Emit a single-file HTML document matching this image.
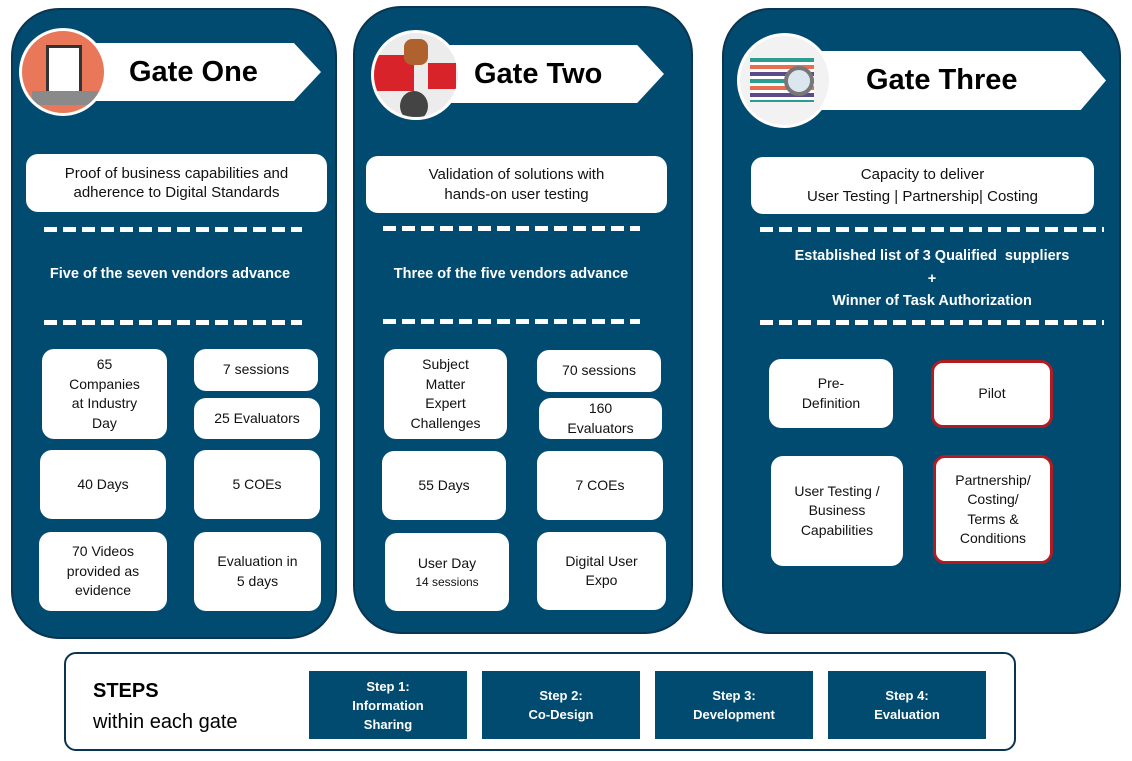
<!DOCTYPE html>
<html><head><style>
*{margin:0;padding:0;box-sizing:border-box}
body{width:1132px;height:761px;background:#fff;position:relative;overflow:hidden;font-family:"Liberation Sans",sans-serif}
.p{position:absolute;background:#024b70;border:2px solid #0a3550;border-radius:48px}
.b{position:absolute;background:#fff;border-radius:12px;display:flex;align-items:center;justify-content:center;text-align:center;font-size:14px;line-height:19.5px;color:#111}
.r{border:3px solid #b01c22}
.d{position:absolute;height:5px;background:repeating-linear-gradient(90deg,#fff 0 13px,transparent 13px 19px)}
.t{position:absolute;color:#fff;font-weight:bold;font-size:14.5px;text-align:center}
.ban{position:absolute;background:#fff;font-weight:bold;font-size:29px;color:#000;display:flex;align-items:center}
.c{position:absolute;border-radius:50%;border:3px solid #fff;overflow:hidden}
.s{position:absolute;background:#024b70;color:#fff;font-weight:bold;font-size:13px;line-height:19px;display:flex;align-items:center;justify-content:center;text-align:center;width:158px;height:68px;top:671px}
</style></head><body>
<div class="p" style="left:11px;top:8px;width:326px;height:631px"></div>
<div class="p" style="left:353px;top:6px;width:340px;height:628px"></div>
<div class="p" style="left:722px;top:8px;width:399px;height:626px"></div>

<div class="ban" style="left:95px;top:43px;width:226px;height:58px;clip-path:polygon(0 0,88% 0,100% 50%,88% 100%,0 100%);padding-left:34px">Gate One</div>
<div class="c" style="left:19px;top:28px;width:88px;height:88px;background:#e9775a"><div style="position:absolute;left:24px;top:14px;width:36px;height:56px;background:#fff;border:3px solid #333"></div><div style="position:absolute;left:10px;top:60px;width:66px;height:14px;background:#8a8a8a"></div></div>

<div class="ban" style="left:420px;top:45px;width:244px;height:58px;clip-path:polygon(0 0,89% 0,100% 50%,89% 100%,0 100%);padding-left:54px">Gate Two</div>
<div class="c" style="left:371px;top:30px;width:90px;height:90px;background:#ececec"><div style="position:absolute;left:0;top:22px;width:40px;height:36px;background:#d8232a"></div><div style="position:absolute;left:54px;top:30px;width:28px;height:26px;background:#d8232a"></div><div style="position:absolute;left:26px;top:58px;width:28px;height:30px;background:#444;border-radius:50%"></div><div style="position:absolute;left:30px;top:6px;width:24px;height:26px;background:#b0622e;border-radius:8px"></div></div>

<div class="ban" style="left:790px;top:51px;width:316px;height:59px;clip-path:polygon(0 0,92% 0,100% 50%,92% 100%,0 100%);padding-left:76px">Gate Three</div>
<div class="c" style="left:737px;top:33px;width:95px;height:95px;background:#f2f2f2"><div style="position:absolute;left:10px;top:22px;width:64px;height:44px;background:repeating-linear-gradient(180deg,#2a9d8f 0 4px,#fff 4px 7px,#e76f51 7px 11px,#fff 11px 14px,#5c4b8a 14px 18px,#fff 18px 21px)"></div><div style="position:absolute;left:44px;top:30px;width:30px;height:30px;border:4px solid #777;border-radius:50%;background:#dce6ef"></div></div>

<!-- Gate One -->
<div class="b" style="left:26px;top:154px;width:301px;height:58px;font-size:15px">Proof of business capabilities and<br>adherence to Digital Standards</div>
<div class="d" style="left:44px;top:227px;width:258px"></div>
<div class="t" style="left:26px;top:266px;width:288px">Five of the seven vendors advance</div>
<div class="d" style="left:44px;top:320px;width:258px"></div>
<div class="b" style="left:42px;top:349px;width:125px;height:90px">65<br>Companies<br>at Industry<br>Day</div>
<div class="b" style="left:194px;top:349px;width:124px;height:42px">7 sessions</div>
<div class="b" style="left:194px;top:398px;width:126px;height:41px">25 Evaluators</div>
<div class="b" style="left:40px;top:450px;width:126px;height:69px">40 Days</div>
<div class="b" style="left:194px;top:450px;width:126px;height:69px">5 COEs</div>
<div class="b" style="left:39px;top:532px;width:128px;height:79px">70 Videos<br>provided as<br>evidence</div>
<div class="b" style="left:194px;top:532px;width:127px;height:79px">Evaluation in<br>5 days</div>

<!-- Gate Two -->
<div class="b" style="left:366px;top:156px;width:301px;height:57px;font-size:15px">Validation of solutions with<br>hands-on user testing</div>
<div class="d" style="left:383px;top:226px;width:257px"></div>
<div class="t" style="left:366px;top:266px;width:290px">Three of the five vendors advance</div>
<div class="d" style="left:383px;top:319px;width:257px"></div>
<div class="b" style="left:384px;top:349px;width:123px;height:90px">Subject<br>Matter<br>Expert<br>Challenges</div>
<div class="b" style="left:537px;top:350px;width:124px;height:42px">70 sessions</div>
<div class="b" style="left:539px;top:398px;width:123px;height:41px">160<br>Evaluators</div>
<div class="b" style="left:382px;top:451px;width:124px;height:69px">55 Days</div>
<div class="b" style="left:537px;top:451px;width:126px;height:69px">7 COEs</div>
<div class="b" style="left:385px;top:533px;width:124px;height:78px;line-height:18px"><div>User Day<br><span style="font-size:12px">14 sessions</span></div></div>
<div class="b" style="left:537px;top:532px;width:129px;height:78px">Digital User<br>Expo</div>

<!-- Gate Three -->
<div class="b" style="left:751px;top:157px;width:343px;height:57px;font-size:15px;line-height:22px">Capacity to deliver<br>User Testing | Partnership| Costing</div>
<div class="d" style="left:760px;top:227px;width:344px"></div>
<div class="t" style="left:760px;top:245px;width:344px;line-height:22.5px">Established list of 3 Qualified&nbsp; suppliers<br>+<br>Winner of Task Authorization</div>
<div class="d" style="left:760px;top:320px;width:344px"></div>
<div class="b" style="left:769px;top:359px;width:124px;height:69px">Pre-<br>Definition</div>
<div class="b r" style="left:931px;top:360px;width:122px;height:68px">Pilot</div>
<div class="b" style="left:771px;top:456px;width:132px;height:110px">User Testing /<br>Business<br>Capabilities</div>
<div class="b r" style="left:933px;top:455px;width:120px;height:109px">Partnership/<br>Costing/<br>Terms &amp;<br>Conditions</div>

<!-- Steps -->
<div style="position:absolute;left:64px;top:652px;width:952px;height:99px;border:2.5px solid #0a3550;border-radius:12px"></div>
<div style="position:absolute;left:93px;top:676px;font-size:20px;line-height:31px;color:#000"><b>STEPS</b><br>within each gate</div>
<div class="s" style="left:309px">Step 1:<br>Information<br>Sharing</div>
<div class="s" style="left:482px">Step 2:<br>Co-Design</div>
<div class="s" style="left:655px">Step 3:<br>Development</div>
<div class="s" style="left:828px">Step 4:<br>Evaluation</div>
</body></html>
